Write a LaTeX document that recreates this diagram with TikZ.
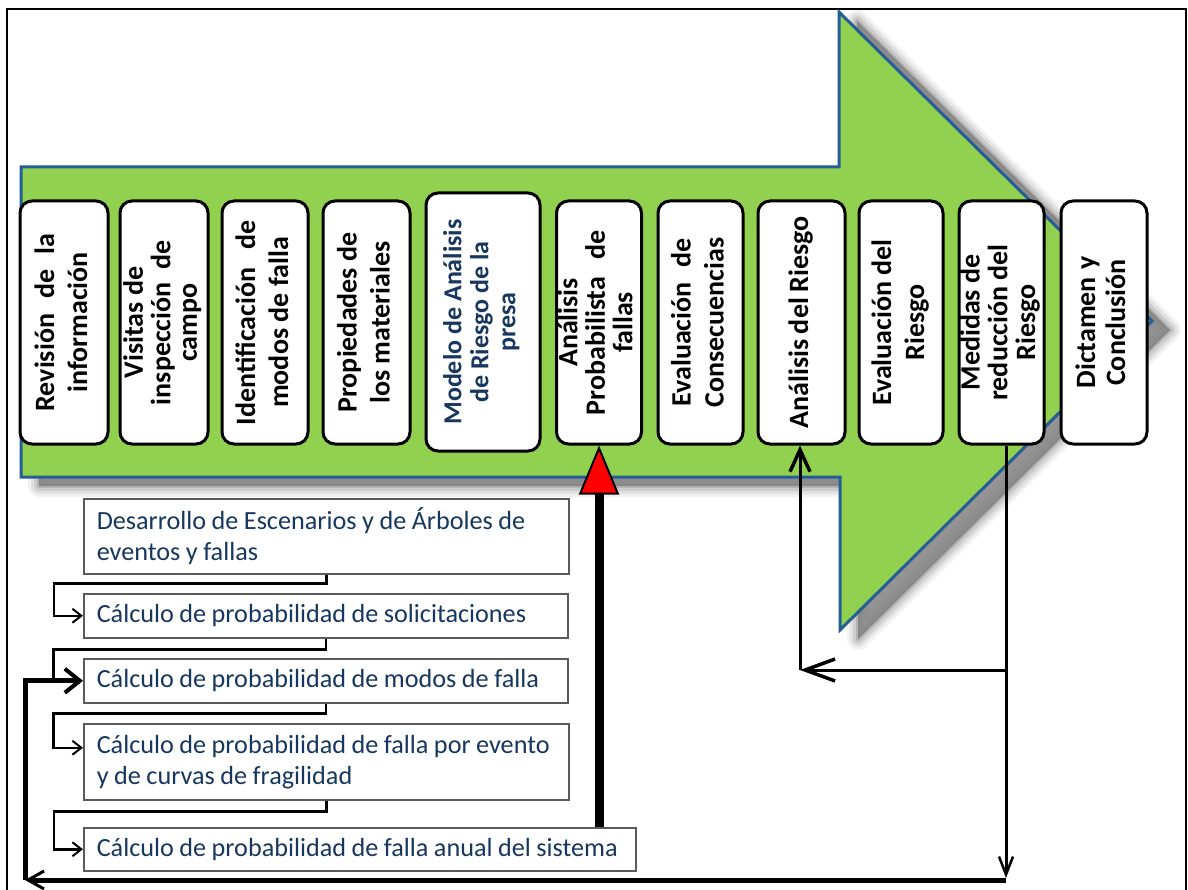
\documentclass[tikz,border=0pt]{standalone}
\usepackage{fontspec}
\setmainfont{Carlito}
\usepackage{graphicx}
\usetikzlibrary{arrows.meta,calc}
\definecolor{agreen}{RGB}{146,208,80}
\definecolor{ablue}{RGB}{37,94,150}
\definecolor{navy}{RGB}{23,55,94}
\definecolor{bgray}{RGB}{90,90,90}
\newcommand\vtx[3]{\rotatebox{90}{\fontsize{#1}{#2}\selectfont\bfseries\begin{tabular}{@{}c@{}}#3\end{tabular}}}
\newcommand\sline[2]{\makebox[#1pt][s]{#2}}
\newcommand\tightsp{\spaceskip=0.21em\relax}
\begin{document}
\begin{tikzpicture}[x=1pt,y=-1pt,
  topbox/.style={draw=black, line width=3pt, rounded corners=12pt, fill=white, inner sep=0pt, minimum height=243pt},
  lowbox/.style={draw=bgray, line width=1.5pt, fill=white, inner xsep=13pt, inner ysep=0pt, align=left, anchor=north west, text=navy, font=\fontsize{26.2}{31}\selectfont, execute at begin node=\tightsp},
  elb/.style={line width=2.5pt, line join=miter},
  sbarb/.style={-{Straight Barb[length=9pt,width=14pt,line width=2pt]}},
  ln/.style={line width=3pt, line join=miter}]
\useasboundingbox (0,0) rectangle (1188,890);
% outer frame
\draw[line width=2pt] (7,9) rectangle (1186,892);
% shadow of the big arrow
\begin{scope}[shift={(18,9)}]
  \foreach \w/\o in {22/0.05,16/0.07,10/0.09,4/0.12}{
    \draw[line width=\w pt, black, opacity=\o, line join=round]
      (21,167) -- (839,167) -- (839,12) -- (1152,321) -- (840,630) -- (840,477) -- (21,477) -- cycle;}
  \fill[black!50, opacity=0.85]
      (21,167) -- (839,167) -- (839,12) -- (1152,321) -- (840,630) -- (840,477) -- (21,477) -- cycle;
\end{scope}
% big arrow
\draw[ablue, line width=3pt, fill=agreen, line join=miter]
  (21,167) -- (839,167) -- (839,12) -- (1152,321) -- (840,630) -- (840,477) -- (21,477) -- cycle;
% top boxes
\node[topbox, minimum width=88pt] (b1) at (64,322.5)
  {\vtx{28}{33}{\sline{178}{Revisión de la}\\información}};
\node[topbox, minimum width=88pt] (b2) at (164,322.5)
  {\vtx{28}{26.5}{Visitas de\\\sline{165}{inspección de}\\campo}};
\node[topbox, minimum width=86pt] (b3) at (265,322.5)
  {\vtx{28}{33}{\sline{205}{Identificación de}\\modos de falla}};
\node[topbox, minimum width=87pt] (b4) at (366.5,322.5)
  {\vtx{28}{33}{Propiedades de\\los materiales}};
\node[topbox, minimum width=114pt, minimum height=258pt, text=navy] (b5) at (483,322)
  {\vtx{26}{27}{Modelo de Análisis\\de Riesgo de la\\presa}};
\node[topbox, minimum width=85pt] (b6) at (599,322.5)
  {\vtx{28}{26}{Análisis\\\sline{185}{Probabilista de}\\fallas}};
\node[topbox, minimum width=85pt] (b7) at (700.5,322.5)
  {\vtx{28}{33}{\sline{168}{Evaluación de}\\Consecuencias}};
\node[topbox, minimum width=87pt] (b8) at (801.5,322.5)
  {\vtx{28}{33}{\sline{212}{Análisis del Riesgo}}};
\node[topbox, minimum width=84pt] (b9) at (901,322.5)
  {\vtx{28}{33}{Evaluación del\\Riesgo}};
\node[topbox, minimum width=85pt] (b10) at (1001.5,322.5)
  {\vtx{28}{27}{Medidas de\\reducción del\\Riesgo}};
\node[topbox, minimum width=86pt] (b11) at (1104,322.5)
  {\vtx{28}{30}{\sline{132}{Dictamen y}\\Conclusión}};
% lower boxes
\node[lowbox, minimum width=485pt, minimum height=75pt, text width=459pt] (lA) at (83,498)
  {\mbox{Desarrollo de Escenarios y de Árboles de}\\\mbox{eventos y fallas}};
\node[lowbox, minimum width=484pt, minimum height=44pt, text width=458pt] (lB) at (83,593)
  {\mbox{Cálculo de probabilidad de solicitaciones}};
\node[lowbox, minimum width=484pt, minimum height=44pt, text width=458pt] (lC) at (83,658)
  {\mbox{Cálculo de probabilidad de modos de falla}};
\node[lowbox, minimum width=485pt, minimum height=76pt, text width=459pt] (lD) at (83,723)
  {\mbox{Cálculo de probabilidad de falla por evento}\\\mbox{y de curvas de fragilidad}};
\node[lowbox, minimum width=552pt, minimum height=43pt, text width=526pt] (lE) at (83,827)
  {\mbox{Cálculo de probabilidad de falla anual del sistema}};
% elbow connectors between lower boxes
\draw[elb, sbarb] (lA.south) -- ++(0,9) -- ++(-272.5,0) |- (lB.west);
\draw[elb] (lB.south) -- ++(0,11) -- ++(-272.5,0) -- ++(0,32);
\draw[elb, sbarb] (lC.south) -- ++(0,10) -- ++(-272.5,0) |- ([yshift=14pt]lD.west);
\draw[elb, sbarb] (lD.south) -- ++(0,11) -- ++(-272.5,0) |- (lE.west);
% red thick arrow
\draw[line width=9pt, -{Triangle[length=49pt,width=40pt,line width=2pt,fill=red]}]
  (b6.south |- lE.north) -- (b6.south);
% feedback loops
\coordinate (dn) at (1006,878);
\coordinate (jn) at (1006,670);
\coordinate (ja) at (800,670);
\coordinate (rc) at (1006,880);
\coordinate (lc) at (25,880);
\draw[ln, -{Straight Barb[length=18pt,width=14pt,line width=2.5pt]}] ([xshift=4.5pt]b10.south) -- (dn);
\draw[ln, -{Straight Barb[length=30pt,width=22pt,line width=3.5pt]}] (jn) -- (ja);
\draw[ln, -{Straight Barb[length=22pt,width=20pt,line width=3.5pt]}] (ja) -- (ja |- b8.south);
\draw[line width=5pt, -{Straight Barb[length=16pt,width=18pt,line width=3pt]}] (rc) -- (lc);
\draw[line width=5pt, line join=miter, -{Straight Barb[length=15pt,width=24pt,line width=4pt]}] (lc) |- (lC.west);
\end{tikzpicture}
\end{document}
